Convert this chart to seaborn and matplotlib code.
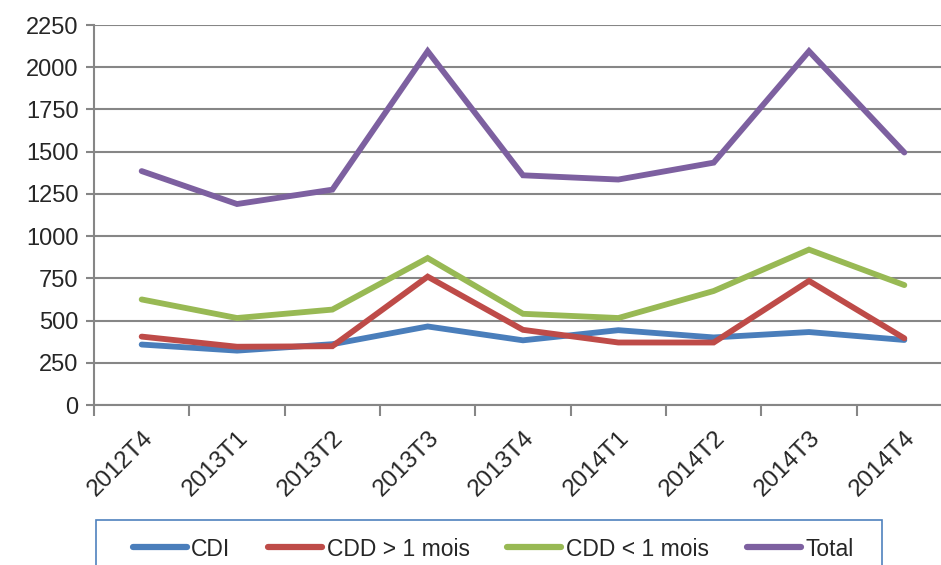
import numpy as np
import pandas as pd
import matplotlib
matplotlib.use("Agg")
import matplotlib.pyplot as plt
from matplotlib.patches import Rectangle
import seaborn as sns

# --- data ---
quarters = ["2012T4", "2013T1", "2013T2", "2013T3", "2013T4",
            "2014T1", "2014T2", "2014T3", "2014T4"]
cdi = [358, 322, 360, 465, 383, 443, 400, 432, 385]
cdd_long = [405, 345, 348, 760, 445, 370, 370, 735, 395]
cdd_short = [625, 515, 565, 870, 540, 515, 675, 920, 710]
total = [1385, 1190, 1275, 2095, 1360, 1335, 1435, 2095, 1495]

series_names = ["CDI", "CDD > 1 mois", "CDD < 1 mois", "Total"]
colors = ["#4A7EBB", "#BE4B48", "#98B954", "#7D60A0"]
y_ticks = list(range(0, 2251, 250))

df = pd.DataFrame({
    "Trimestre": quarters * 4,
    "pos": list(range(len(quarters))) * 4,
    "Valeur": cdi + cdd_long + cdd_short + total,
    "Serie": sum([[n] * len(quarters) for n in series_names], []),
})

sns.set_theme(style="white")
plt.rcParams["font.family"] = ["Liberation Sans", "DejaVu Sans"]

fig = plt.figure(figsize=(9.41, 5.65), dpi=100)
ax = fig.add_axes([94 / 941, 1 - 405 / 565, (952 - 94) / 941, 380 / 565])

sns.lineplot(data=df, x="pos", y="Valeur", hue="Serie", hue_order=series_names,
             palette=colors, linewidth=4.2, ax=ax, legend=False,
             solid_joinstyle="miter")

grid_c = "#868686"
ax.set_xlim(-0.5, len(quarters) - 0.5)
ax.set_ylim(0, 2250)
ax.set_yticks(y_ticks)
ax.set_yticklabels([str(v) for v in y_ticks], fontsize=17)
ax.yaxis.grid(True, color=grid_c, linewidth=1.5)
ax.set_axisbelow(True)

ax.set_xticks(range(len(quarters)))
ax.set_xticklabels(quarters, rotation=45, ha="right", rotation_mode="anchor",
                   fontsize=17.5)
ax.set_xticks(np.arange(-0.5, len(quarters), 1.0), minor=True)
ax.tick_params(axis="x", which="major", length=0, pad=16)
ax.tick_params(axis="x", which="minor", length=8, width=1.5, color=grid_c,
               direction="out", bottom=True)
ax.tick_params(axis="y", length=6, width=1.5, color=grid_c, direction="out",
               left=True, pad=5)
ax.set_xlabel("")
ax.set_ylabel("")

for s in ["top", "right"]:
    ax.spines[s].set_visible(False)
for s in ["left", "bottom"]:
    ax.spines[s].set_color(grid_c)
    ax.spines[s].set_linewidth(1.5)

# legend box (runs off the bottom edge like the reference)
fig.patches.append(Rectangle((96 / 941, -0.05), (882 - 96) / 941, 0.05 + 45 / 565,
                             transform=fig.transFigure, fill=False,
                             edgecolor="#4F81BD", linewidth=1.2))

handles = [plt.Line2D([], [], color=c, linewidth=4.5) for c in colors]
fig.legend(handles, series_names, loc="center", ncol=4,
           bbox_to_anchor=(493 / 941, 1 - 549 / 565),
           frameon=False, fontsize=16.5, handlelength=2.35, handletextpad=0.2,
           columnspacing=1.65, borderpad=0, borderaxespad=0)

fig.savefig("out.png", dpi=100)
